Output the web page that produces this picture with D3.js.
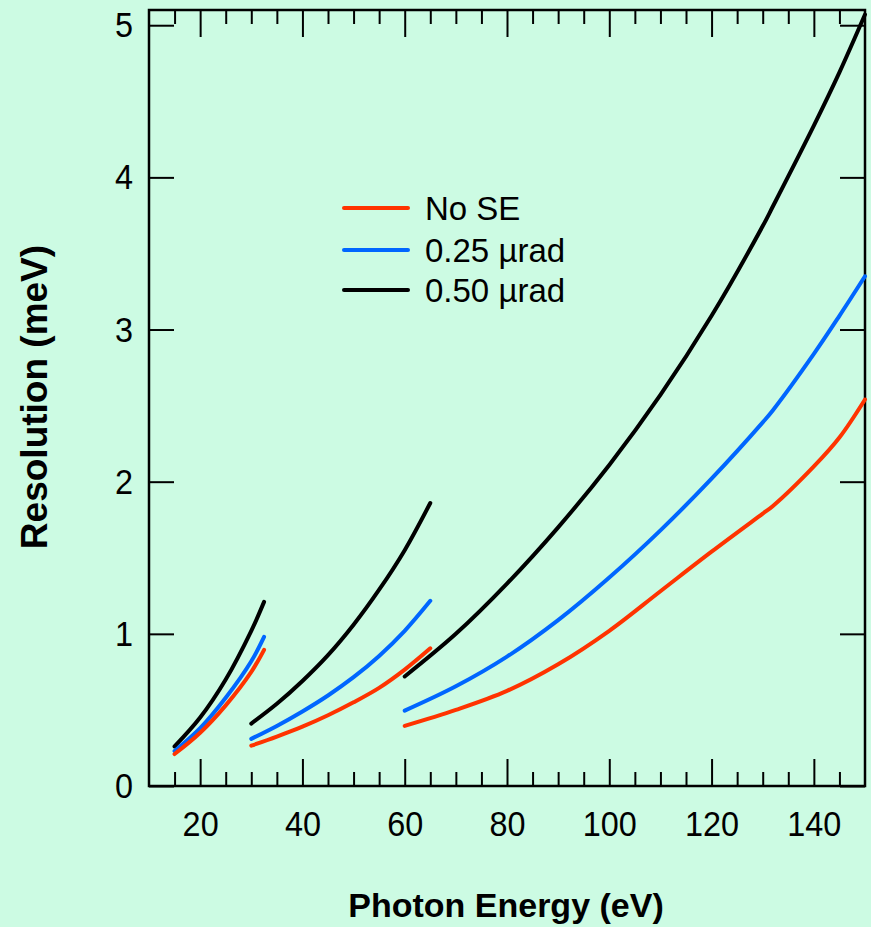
<!DOCTYPE html>
<html>
<head>
<meta charset="utf-8">
<script src="https://cdn.jsdelivr.net/npm/d3@7"></script>
<style>
  html, body { margin: 0; padding: 0; background: #ccfbe3; }
  svg { display: block; }
  text { font-family: "Liberation Sans", Arial, Helvetica, sans-serif; fill: #000; }
</style>
</head>
<body>
<svg id="chart" width="871" height="927"></svg>
<script>
// Photon energy grids (eV) for the three grating ranges
const energy1 = [15, 20, 25, 30, 32.5];
const energy2 = [30, 35, 40, 45, 50, 55, 60, 65];
const energy3 = [60, 70, 80, 90, 100, 110, 120, 130, 132, 140, 145, 150];

// Resolution (meV), no slope error
const noSE1 = [0.21, 0.35, 0.53, 0.75, 0.895];
const noSE2 = [0.265, 0.325, 0.39, 0.465, 0.55, 0.645, 0.765, 0.905];
const noSE3 = [0.395, 0.50, 0.625, 0.80, 1.02, 1.28, 1.54, 1.79, 1.84, 2.10, 2.29, 2.54];

// Resolution (meV), 0.25 µrad slope error
const se025_1 = [0.23, 0.38, 0.58, 0.82, 0.98];
const se025_2 = [0.31, 0.395, 0.49, 0.595, 0.715, 0.855, 1.02, 1.217];
const se025_3 = [0.495, 0.655, 0.85, 1.09, 1.37, 1.68, 2.02, 2.39, 2.47, 2.84, 3.09, 3.35];

// Resolution (meV), 0.50 µrad slope error
const se050_1 = [0.26, 0.45, 0.70, 1.02, 1.21];
const se050_2 = [0.41, 0.54, 0.69, 0.86, 1.06, 1.29, 1.55, 1.86];
const se050_3 = [0.72, 1.00, 1.33, 1.70, 2.11, 2.57, 3.09, 3.68, 3.81, 4.34, 4.69, 5.07];

const seriesNames = ["No SE", "0.25 \u00B5rad", "0.50 \u00B5rad"];
const seriesColors = ["#ff3300", "#0066ff", "#000000"];

const xMajorTicks = [20, 40, 60, 80, 100, 120, 140];
const yMajorTicks = [0, 1, 2, 3, 4, 5];

const series = [
  { name: seriesNames[0], color: seriesColors[0],
    segments: [[energy1, noSE1], [energy2, noSE2], [energy3, noSE3]] },
  { name: seriesNames[1], color: seriesColors[1],
    segments: [[energy1, se025_1], [energy2, se025_2], [energy3, se025_3]] },
  { name: seriesNames[2], color: seriesColors[2],
    segments: [[energy1, se050_1], [energy2, se050_2], [energy3, se050_3]] }
];

const svg = d3.select("#chart");
const L = 149, R = 865, T = 10, B = 786;

const x = d3.scaleLinear().domain([10, 150]).range([L, R]);
const y = d3.scaleLinear().domain([0, 5.1]).range([B, T]);

const xMinor = d3.range(15, 150, 5).filter(v => !xMajorTicks.includes(v));

function styleAxis(g) {
  g.select(".domain").remove();
  g.selectAll(".tick line").attr("stroke", "#000").attr("stroke-width", 2);
}

// Bottom axis: major with labels, minor without
const gxB = svg.append("g").attr("transform", `translate(0,${B})`)
  .call(d3.axisBottom(x).tickValues(xMajorTicks).tickSize(-27).tickPadding(24)
    .tickFormat(d3.format("d")));
styleAxis(gxB);
gxB.selectAll(".tick text").attr("font-size", 36).attr("transform", "scale(0.9,1)");
const gxBm = svg.append("g").attr("transform", `translate(0,${B})`)
  .call(d3.axisBottom(x).tickValues(xMinor).tickSize(-14).tickFormat(""));
styleAxis(gxBm);

// Top axis mirrors the bottom ticks
const gxT = svg.append("g").attr("transform", `translate(0,${T})`)
  .call(d3.axisTop(x).tickValues(xMajorTicks).tickSize(-27).tickFormat(""));
styleAxis(gxT);
const gxTm = svg.append("g").attr("transform", `translate(0,${T})`)
  .call(d3.axisTop(x).tickValues(xMinor).tickSize(-14).tickFormat(""));
styleAxis(gxTm);

// Left axis with labels, right axis mirrored
const gyL = svg.append("g").attr("transform", `translate(${L},0)`)
  .call(d3.axisLeft(y).tickValues(yMajorTicks).tickSize(-25).tickPadding(16)
    .tickFormat(d3.format("d")));
styleAxis(gyL);
gyL.selectAll(".tick text").attr("font-size", 36)
  .attr("x", -16 / 0.9).attr("transform", "scale(0.9,1)");
const gyR = svg.append("g").attr("transform", `translate(${R},0)`)
  .call(d3.axisRight(y).tickValues(yMajorTicks).tickSize(-25).tickFormat(""));
styleAxis(gyR);

// Plot frame
svg.append("rect")
  .attr("x", L).attr("y", T).attr("width", R - L).attr("height", B - T)
  .attr("fill", "none").attr("stroke", "#000").attr("stroke-width", 2.5);

// Curves
const line = d3.line()
  .x(d => x(d[0])).y(d => y(d[1]))
  .curve(d3.curveCatmullRom.alpha(0.5));

const drawOrder = [series[2], series[1], series[0]];
drawOrder.forEach(s => {
  s.segments.forEach(([es, vs]) => {
    const pts = es.map((e, i) => [e, vs[i]]);
    svg.append("path")
      .attr("d", line(pts))
      .attr("fill", "none")
      .attr("stroke", s.color)
      .attr("stroke-width", 4)
      .attr("stroke-linecap", "round")
      .attr("stroke-linejoin", "round");
  });
});

// Legend
const legend = svg.append("g").attr("transform", "translate(344,208)");
const legendRows = [0, 42, 82];
series.forEach((s, i) => {
  const row = legend.append("g").attr("transform", `translate(0,${legendRows[i]})`);
  row.append("line").attr("x1", 0).attr("x2", 64).attr("y1", 0).attr("y2", 0)
    .attr("stroke", s.color).attr("stroke-width", 4).attr("stroke-linecap", "round");
  row.append("text").attr("x", 81).attr("y", 0).attr("dy", "0.36em")
    .attr("font-size", 33).text(s.name);
});

// Axis titles
svg.append("text")
  .attr("x", 506).attr("y", 917)
  .attr("text-anchor", "middle")
  .attr("font-size", 34).attr("font-weight", "bold")
  .text("Photon Energy (eV)");

svg.append("text")
  .attr("transform", "translate(47,397) rotate(-90)")
  .attr("text-anchor", "middle")
  .attr("font-size", 37).attr("font-weight", "bold")
  .text("Resolution (meV)");
</script>
</body>
</html>
